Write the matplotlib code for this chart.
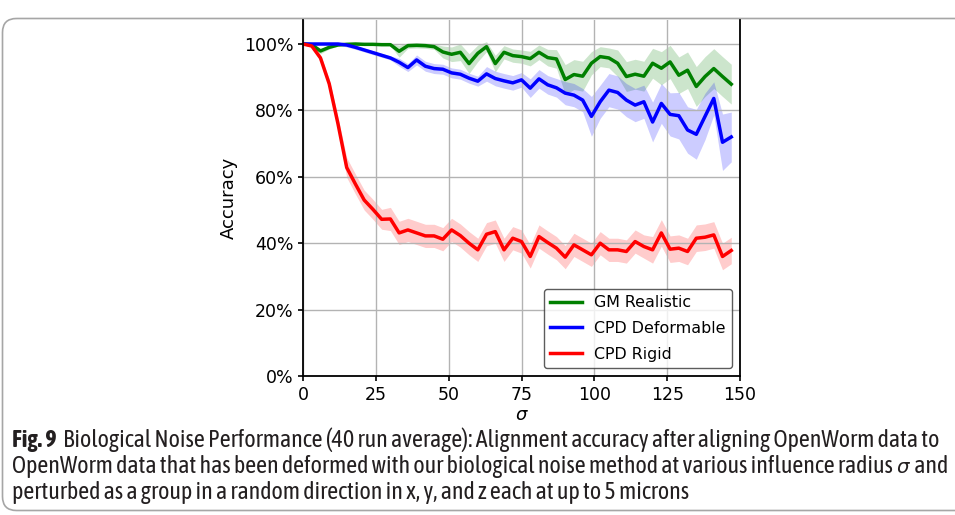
import matplotlib
matplotlib.use('Agg')
import matplotlib.pyplot as plt
import numpy as np
from matplotlib.patches import FancyBboxPatch
from matplotlib.ticker import PercentFormatter
from matplotlib import font_manager

# sigma grid (influence radius)
sigma = np.arange(0, 150, 3)

# mean accuracy (%) per method
gm_realistic = [100.0, 99.8, 97.9, 99.0, 99.7, 99.9, 100.0, 99.9, 99.9, 99.8,
                99.8, 97.8, 99.5, 99.6, 99.5, 99.2, 97.6, 96.9, 97.5, 94.1,
                97.2, 99.2, 94.1, 97.5, 96.5, 96.2, 95.6, 97.5, 95.9, 95.5,
                89.3, 90.8, 90.3, 94.2, 96.2, 95.8, 94.2, 90.2, 90.9, 90.3,
                94.2, 92.7, 94.6, 90.6, 92.1, 87.2, 90.2, 92.6, 90.2, 87.9]
cpd_deformable = [100.0, 100.0, 100.0, 100.0, 100.0, 99.7, 99.0, 98.2, 97.4, 96.6,
                  95.8, 94.5, 92.9, 95.2, 93.3, 92.6, 92.4, 91.3, 90.9, 89.7,
                  88.8, 91.0, 89.6, 88.9, 88.3, 89.2, 86.7, 89.5, 87.7, 86.8,
                  85.2, 84.6, 83.1, 78.2, 82.6, 86.1, 85.4, 83.1, 81.6, 82.6,
                  76.5, 82.1, 78.8, 78.4, 74.1, 72.8, 78.2, 83.6, 70.4, 72.0]
cpd_rigid = [100.0, 99.4, 95.8, 88.0, 76.0, 62.8, 57.8, 53.0, 50.2, 47.2,
             47.3, 43.1, 44.0, 43.1, 42.2, 42.2, 41.2, 44.0, 42.3, 40.0,
             38.0, 42.7, 43.5, 38.0, 41.5, 40.5, 36.0, 42.0, 40.2, 38.5,
             35.8, 39.5, 38.0, 36.5, 40.0, 38.0, 38.0, 37.5, 40.5, 39.0,
             38.0, 43.1, 38.2, 38.5, 37.5, 41.5, 41.8, 42.5, 36.0, 37.8]

# spread (%) shown as shaded band
gm_std = [0.2, 0.2, 0.8, 0.5, 0.3, 0.3, 0.3, 0.3, 0.3, 0.3,
          0.3, 1.8, 0.8, 0.8, 0.8, 0.8, 1.8, 2.2, 2.5, 3.0,
          2.5, 1.5, 2.5, 2.0, 2.0, 2.0, 2.2, 2.2, 2.5, 2.8,
          4.5, 4.5, 4.5, 3.5, 3.0, 3.0, 4.0, 4.5, 4.5, 4.5,
          4.5, 5.0, 5.0, 5.5, 5.5, 6.0, 6.0, 6.0, 6.0, 6.0]
cpd_def_std = [0.2, 0.2, 0.2, 0.2, 0.2, 0.6, 0.6, 0.6, 0.6, 0.6,
               0.6, 1.2, 1.2, 1.5, 1.5, 1.5, 1.5, 1.5, 1.5, 1.5,
               1.5, 2.2, 2.2, 2.2, 2.2, 2.2, 2.8, 2.8, 2.8, 2.8,
               3.5, 3.5, 3.5, 6.0, 5.0, 5.0, 5.0, 5.0, 5.0, 5.0,
               6.0, 6.0, 6.5, 7.0, 7.0, 7.5, 7.0, 5.0, 8.5, 7.5]
cpd_rig_std = [0.2, 0.5, 1.0, 1.5, 2.0, 3.0, 3.0, 3.0, 3.0, 3.0,
               3.5, 3.5, 3.5, 3.5, 3.5, 3.5, 3.5, 3.5, 3.5, 3.5,
               3.5, 3.5, 3.5, 3.5, 3.5, 3.5, 3.5, 3.5, 3.5, 3.5,
               3.5, 3.5, 3.5, 3.5, 3.5, 3.5, 3.5, 3.5, 3.5, 3.5,
               4.0, 4.0, 4.0, 4.0, 4.0, 4.0, 4.0, 4.0, 4.0, 4.0]

series = [
    ("GM Realistic", gm_realistic, gm_std, "green"),
    ("CPD Deformable", cpd_deformable, cpd_def_std, "blue"),
    ("CPD Rigid", cpd_rigid, cpd_rig_std, "red"),
]

caption_bold = "Fig. 9"
caption_line1 = "Biological Noise Performance (40 run average): Alignment accuracy after aligning OpenWorm data to"
caption_line2a = "OpenWorm data that has been deformed with our biological noise method at various influence radius "
caption_line2b = " and"
caption_line3 = "perturbed as a group in a random direction in x, y, and z each at up to 5 microns"

W, H = 955, 515
fig = plt.figure(figsize=(W / 100, H / 100), dpi=100)

# page-like frame + caption, drawn in pixel coordinates
bg = fig.add_axes([0, 0, 1, 1])
bg.set_xlim(0, W)
bg.set_ylim(H, 0)
bg.axis('off')
frame = FancyBboxPatch((2.5, 18.5), 1000, 492, boxstyle='round,pad=0,rounding_size=14',
                       fc='none', ec='#a6a6a6', lw=1.2)
bg.add_patch(frame)

# top of the plot is cut off by the frame in the original
top_px = 20
ax = fig.add_axes([303 / W, 1 - 376 / H, 437 / W, (376 - top_px) / H])
for name, vals, sd, col in series:
    v = np.array(vals) / 100
    s = np.array(sd) / 100
    ax.fill_between(sigma, v - s, v + s, color=col, alpha=0.2, lw=0)
    ax.plot(sigma, v, color=col, lw=2.5, label=name)

ax.set_xlim(0, 150)
ax.set_ylim(0, 1 + (44 - top_px) / 332)
ax.set_xticks([0, 25, 50, 75, 100, 125, 150])
ax.set_yticks([0, 0.2, 0.4, 0.6, 0.8, 1.0])
ax.yaxis.set_major_formatter(PercentFormatter(1.0, decimals=0))
ax.tick_params(labelsize=12.5, width=1.2)
ax.grid(True, color='#b3b3b3', lw=1)
for sp in ax.spines.values():
    sp.set_linewidth(1.3)
ax.spines['top'].set_visible(False)
ax.set_xlabel(r'$\sigma$', fontsize=13, labelpad=2)
ax.set_ylabel('Accuracy', fontsize=13)
leg = ax.legend(loc='lower right', fontsize=11.4, edgecolor='0.2', fancybox=True,
                labelspacing=0.68)
leg.get_frame().set_linewidth(1.0)

# caption font: humanist condensed face, close to the journal's
names = {f.name for f in font_manager.fontManager.ttflist}
cap_font = 'Open Sans'
for cand in ['Asap Condensed', 'Barlow Semi Condensed', 'Archivo Narrow']:
    if cand in names:
        cap_font = cand
        break
ink = '#231f20'

renderer = fig.canvas.get_renderer()


def width(t):
    return t.get_window_extent(renderer).width


fs0 = 10
tb = bg.text(12, 440, caption_bold + "  ", fontsize=fs0, fontweight='bold', family=cap_font,
             va='center', ha='left', color=ink)
t1 = bg.text(0, 440, caption_line1, fontsize=fs0, family=cap_font, va='center', color=ink)
fs = fs0 * (942 - 12) / (width(tb) + width(t1))
tb.set_fontsize(fs)
t1.set_fontsize(fs)
t1.set_x(12 + width(tb))

# second line: italic sigma in the middle
y2 = 466.5
ta = bg.text(12, y2, caption_line2a, fontsize=fs, family=cap_font, va='center', ha='left', color=ink)
ts = bg.text(12 + width(ta), y2 + 1, r'$\sigma$', fontsize=fs * 0.82, va='center', ha='left', color=ink)
bg.text(12 + width(ta) + width(ts), y2, caption_line2b, fontsize=fs, family=cap_font,
        va='center', ha='left', color=ink)

bg.text(12, 493, caption_line3, fontsize=fs, family=cap_font, va='center', ha='left', color=ink)

fig.savefig('out.png', dpi=100)
